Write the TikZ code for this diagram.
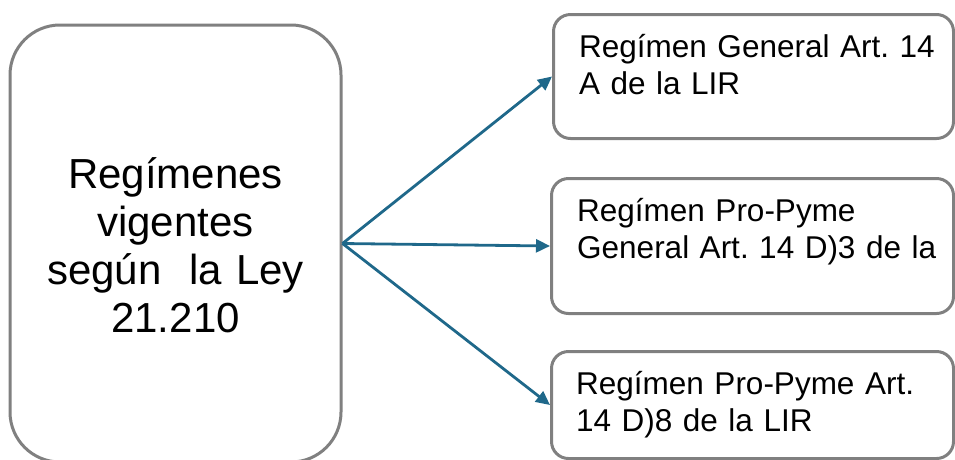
\documentclass[tikz,border=0pt]{standalone}
\usepackage{fontspec}
\setmainfont{Liberation Sans}
\frenchspacing
\usetikzlibrary{arrows.meta,calc}
\definecolor{boxgray}{RGB}{128,128,128}
\definecolor{arrowc}{RGB}{31,104,138}
\tikzset{
  bigbox/.style={draw=boxgray, line width=3pt, rounded corners=50pt, fill=white, inner sep=0pt},
  smallbox/.style={draw=boxgray, line width=3pt, rounded corners=17pt, fill=white, inner sep=0pt, anchor=north west},
  bigtext/.style={font=\fontsize{42}{48}\selectfont, text width=320pt, align=center, inner sep=0pt, anchor=base},
  smalltext/.style={font=\fontsize{31.5}{37}\selectfont, text width=370pt, align=left, inner sep=0pt, anchor=base west},
  conn/.style={draw=arrowc, line width=2.8pt, -{Triangle[length=14pt,width=13pt]}}
}
\begin{document}
\begin{tikzpicture}[x=1pt,y=-1pt]
\useasboundingbox (0,0) rectangle (955,459);
% left box
\node[bigbox, minimum width=331pt, minimum height=437pt] (L) at (175.5,243.5) {};
\node[bigtext] (Lt) at (175.5,188) {Regímenes\\vigentes\\según\ \ la Ley\\21.210};
% right boxes
\node[smallbox, minimum width=400pt, minimum height=124pt] (B1) at (552,13) {};
\node[smalltext] (T1) at (579,57) {Regímen General Art. 14\\A de la LIR};
\node[smallbox, minimum width=402pt, minimum height=135pt] (B2) at (550,177) {};
\node[smalltext] (T2) at (577,221) {Regímen Pro-Pyme\\General Art. 14 D)3 de la};
\node[smallbox, minimum width=402pt, minimum height=107pt] (B3) at (550,350) {};
\node[smalltext] (T3) at (576,394) {Regímen Pro-Pyme Art.\\14 D)8 de la LIR};
% connectors
\draw[conn] (L.east) -- (B1.west);
\draw[conn] (L.east) -- (B2.west);
\draw[conn] (L.east) -- (B3.west);
\end{tikzpicture}
\end{document}
